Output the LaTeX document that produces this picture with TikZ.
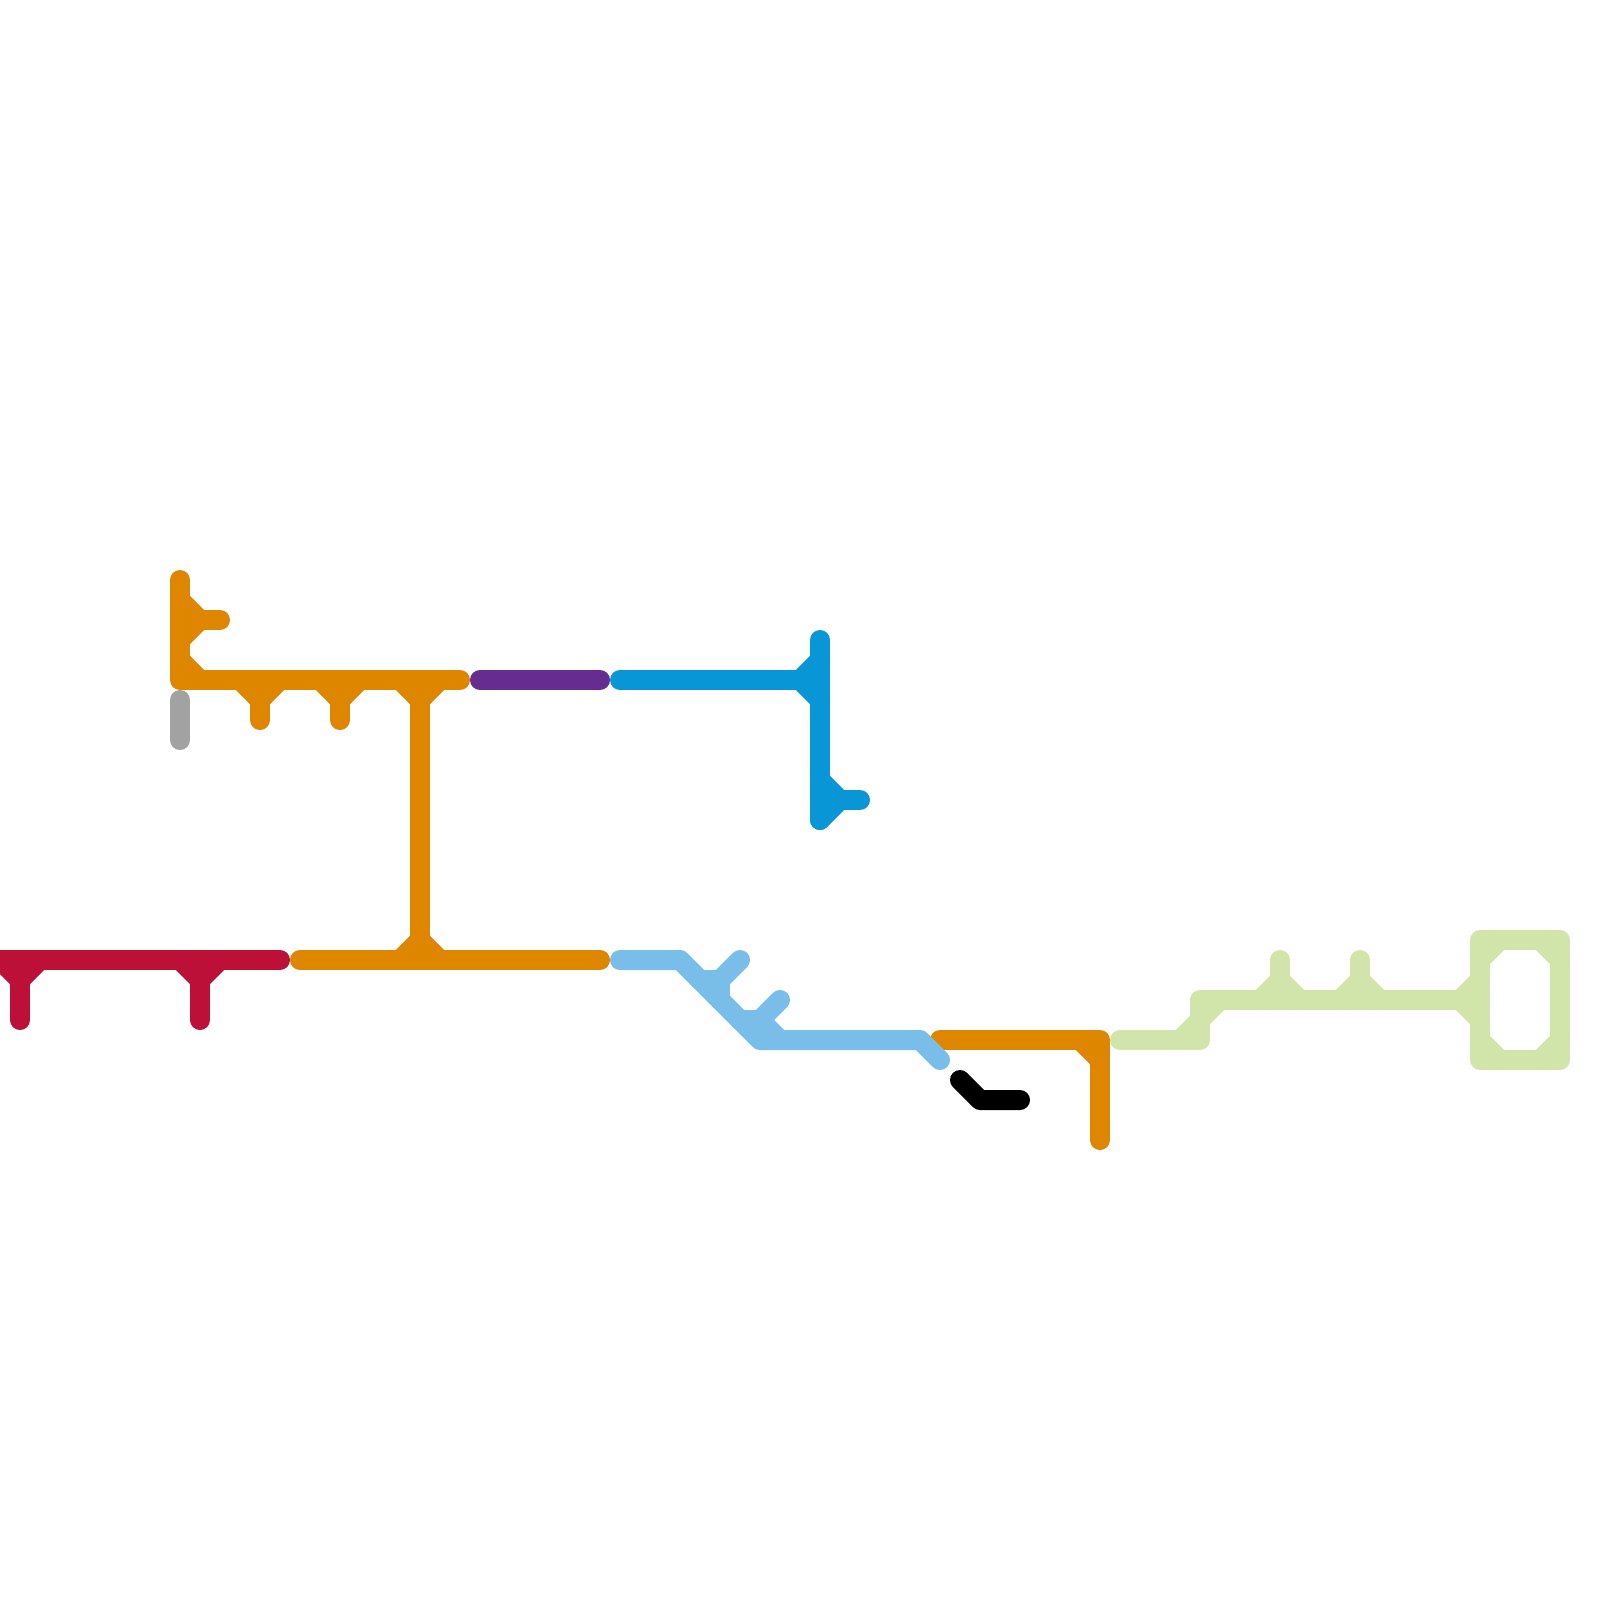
\documentclass[tikz,border=0pt]{standalone}
\definecolor{mOrange}{HTML}{DF8600}
\definecolor{mGray}{HTML}{A2A2A2}
\definecolor{mPurple}{HTML}{662C90}
\definecolor{mBlue}{HTML}{0896D7}
\definecolor{mSky}{HTML}{79BDE9}
\definecolor{mRed}{HTML}{BD1038}
\definecolor{mGreen}{HTML}{D1E4A9}
\tikzset{
  route/.style={line width=20pt,line cap=round,line join=round},
  routeOrange/.style={route,draw=mOrange},
  routeGray/.style={route,draw=mGray},
  routePurple/.style={route,draw=mPurple},
  routeBlue/.style={route,draw=mBlue},
  routeSky/.style={route,draw=mSky},
  routeRed/.style={route,draw=mRed},
  routeGreen/.style={route,draw=mGreen},
  routeBlack/.style={route,draw=black}
}
\begin{document}
\begin{tikzpicture}[x=1pt,y=-1pt]
\useasboundingbox (0,0) rectangle (1600,1600);
\clip (0,0) rectangle (1600,1600);
\fill[white] (0,0) rectangle (1600,1600);
% red
\draw[routeRed] (0,960) -- (280,960);
\draw[routeRed] (20,960) -- (20,1020);
\draw[routeRed] (200,960) -- (200,1020);
\draw[routeRed] (0,960) -- (20,980) -- (40,960);
\draw[routeRed] (180,960) -- (200,980) -- (220,960);
% gray
\draw[routeGray] (180,700) -- (180,740);
% orange upper network
\draw[routeOrange] (180,580) -- (180,680) -- (460,680);
\draw[routeOrange] (180,620) -- (220,620);
\draw[routeOrange] (180,600) -- (200,620) -- (180,640);
\draw[routeOrange] (180,660) -- (200,680);
\draw[routeOrange] (260,680) -- (260,720);
\draw[routeOrange] (240,680) -- (260,700) -- (280,680);
\draw[routeOrange] (340,680) -- (340,720);
\draw[routeOrange] (320,680) -- (340,700) -- (360,680);
\draw[routeOrange] (420,680) -- (420,960);
\draw[routeOrange] (400,680) -- (420,700) -- (440,680);
\draw[routeOrange] (300,960) -- (600,960);
\draw[routeOrange] (400,960) -- (420,940) -- (440,960);
% purple
\draw[routePurple] (480,680) -- (600,680);
% blue
\draw[routeBlue] (620,680) -- (820,680);
\draw[routeBlue] (820,640) -- (820,820);
\draw[routeBlue] (820,660) -- (800,680) -- (820,700);
\draw[routeBlue] (820,800) -- (860,800);
\draw[routeBlue] (820,780) -- (840,800) -- (820,820);
% orange right
\draw[routeOrange] (940,1040) -- (1100,1040) -- (1100,1140);
\draw[routeOrange] (1080,1040) -- (1100,1060);
% sky
\draw[routeSky] (620,960) -- (680,960) -- (760,1040) -- (920,1040) -- (940,1060);
\draw[routeSky] (700,980) -- (720,980) -- (740,960);
\draw[routeSky] (720,980) -- (720,1000);
\draw[routeSky] (740,1020) -- (760,1020) -- (780,1000);
\draw[routeSky] (760,1020) -- (780,1040);
% black
\draw[routeBlack] (960,1080) -- (980,1100) -- (1020,1100);
% green
\draw[routeGreen] (1120,1040) -- (1200,1040) -- (1200,1000) -- (1480,1000);
\draw[routeGreen] (1180,1040) -- (1200,1020) -- (1220,1000);
\draw[routeGreen] (1280,1000) -- (1280,960);
\draw[routeGreen] (1260,1000) -- (1280,980) -- (1300,1000);
\draw[routeGreen] (1360,1000) -- (1360,960);
\draw[routeGreen] (1340,1000) -- (1360,980) -- (1380,1000);
\draw[routeGreen] (1480,980) -- (1460,1000) -- (1480,1020);
\draw[routeGreen] (1480,940) -- (1560,940) -- (1560,1060) -- (1480,1060) -- cycle;
\draw[routeGreen] (1480,960) -- (1500,940);
\draw[routeGreen] (1540,940) -- (1560,960);
\draw[routeGreen] (1480,1040) -- (1500,1060);
\draw[routeGreen] (1540,1060) -- (1560,1040);
\end{tikzpicture}
\end{document}
